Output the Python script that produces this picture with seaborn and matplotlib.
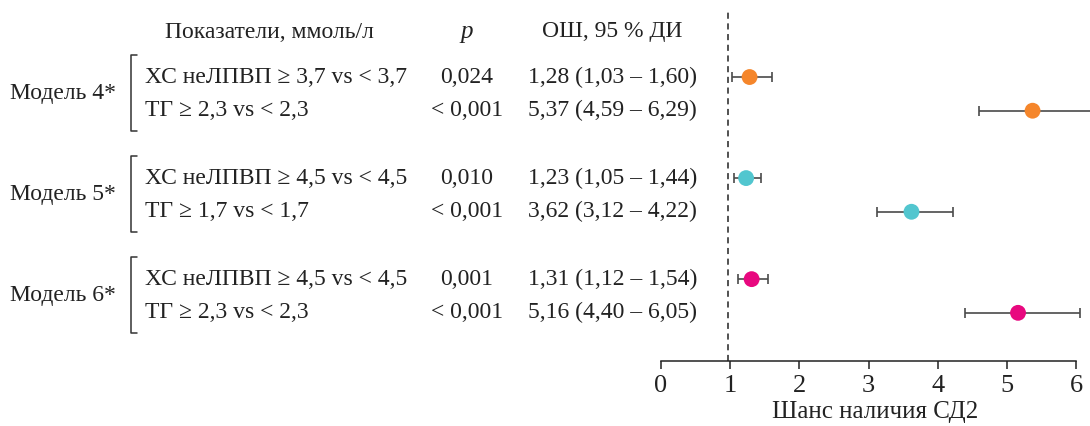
import matplotlib.pyplot as plt
import matplotlib.transforms as mtransforms
import seaborn as sns
import pandas as pd

# Данные forest plot
models = ["Модель 4*", "Модель 5*", "Модель 6*"]
indicators = [
    "ХС неЛПВП ≥ 3,7 vs < 3,7", "ТГ ≥ 2,3 vs < 2,3",
    "ХС неЛПВП ≥ 4,5 vs < 4,5", "ТГ ≥ 1,7 vs < 1,7",
    "ХС неЛПВП ≥ 4,5 vs < 4,5", "ТГ ≥ 2,3 vs < 2,3",
]
p_values = ["0,024", "< 0,001", "0,010", "< 0,001", "0,001", "< 0,001"]
or_values = [1.28, 5.37, 1.23, 3.62, 1.31, 5.16]
ci_low = [1.03, 4.59, 1.05, 3.12, 1.12, 4.40]
ci_high = [1.60, 6.29, 1.44, 4.22, 1.54, 6.05]
model_of_row = ["Модель 4*", "Модель 4*", "Модель 5*", "Модель 5*", "Модель 6*", "Модель 6*"]
colors = {"Модель 4*": "#F5862B", "Модель 5*": "#52C6CF", "Модель 6*": "#E8087F"}
row_pos = [0, 1, 3, 4, 6, 7]

df = pd.DataFrame({"model": model_of_row, "or": or_values, "lo": ci_low,
                   "hi": ci_high, "y": row_pos})

sns.set_theme(style="white")
plt.rcParams["font.family"] = ["Liberation Serif", "DejaVu Serif"]

W, H = 1090, 426
fig = plt.figure(figsize=(W / 100, H / 100), dpi=100)
ax = fig.add_axes([661 / W, (H - 361) / H, (W - 661) / W, (361 - 10) / H])

# доверительные интервалы
ax.errorbar(df["or"], df["y"], xerr=[df["or"] - df["lo"], df["hi"] - df["or"]],
            fmt="none", ecolor="#4a4a4a", elinewidth=1.2, capsize=3.5, capthick=1.2,
            zorder=2)
sns.scatterplot(data=df, x="or", y="y", hue="model", palette=colors, s=130,
                edgecolor="none", legend=False, ax=ax, zorder=3)

ax.axvline(0.97, color="#222222", linestyle=(0, (4, 3)), linewidth=1.1, zorder=1)

ax.set_xlim(0, 6.2)
ax.set_ylim(8.43, -1.99)
ax.set_yticks([])
ax.set_ylabel("")
ax.set_xticks(range(0, 7))
ax.tick_params(axis="x", direction="out", length=6, width=1.1, color="#222222",
               labelsize=19, pad=4, bottom=True, labelcolor="#222222")
for s in ["top", "right", "left"]:
    ax.spines[s].set_visible(False)
ax.spines["bottom"].set_bounds(0, 6)
ax.spines["bottom"].set_color("#222222")
ax.spines["bottom"].set_linewidth(1.1)
ax.set_xlabel("Шанс наличия СД2", fontsize=18, labelpad=3, color="#222222")

# таблица слева
fs = 17
tr = mtransforms.blended_transform_factory(fig.transFigure, ax.transData)
fy = lambda px: (H - px) / H
fig.text(269 / W, fy(32), "Показатели, ммоль/л", ha="center", va="center", fontsize=fs, color="#222222")
fig.text(467 / W, fy(32), "p", ha="center", va="center", fontsize=fs + 1, style="italic", color="#222222")
fig.text(612 / W, fy(32), "ОШ, 95 % ДИ", ha="center", va="center", fontsize=fs, color="#222222")

for i, y in enumerate(row_pos):
    ax.text(145 / W, y, indicators[i], transform=tr, ha="left", va="center", fontsize=fs, color="#222222")
    ax.text(467 / W, y, p_values[i], transform=tr, ha="center", va="center", fontsize=fs, color="#222222")
    txt = f"{or_values[i]:.2f} ({ci_low[i]:.2f} – {ci_high[i]:.2f})".replace(".", ",")
    ax.text(528 / W, y, txt, transform=tr, ha="left", va="center", fontsize=fs, color="#222222")

for k, m in enumerate(models):
    y0, y1 = row_pos[2 * k], row_pos[2 * k + 1]
    ax.text(10 / W, (y0 + y1) / 2, m, transform=tr, ha="left", va="center", fontsize=fs, color="#222222")
    top, bot = y0 - 0.65, y1 + 0.6
    ax.plot([137 / W, 131 / W, 131 / W, 137 / W], [top, top, bot, bot], transform=tr,
            color="#333333", linewidth=1.1, clip_on=False)

fig.savefig("out.png", dpi=100)
